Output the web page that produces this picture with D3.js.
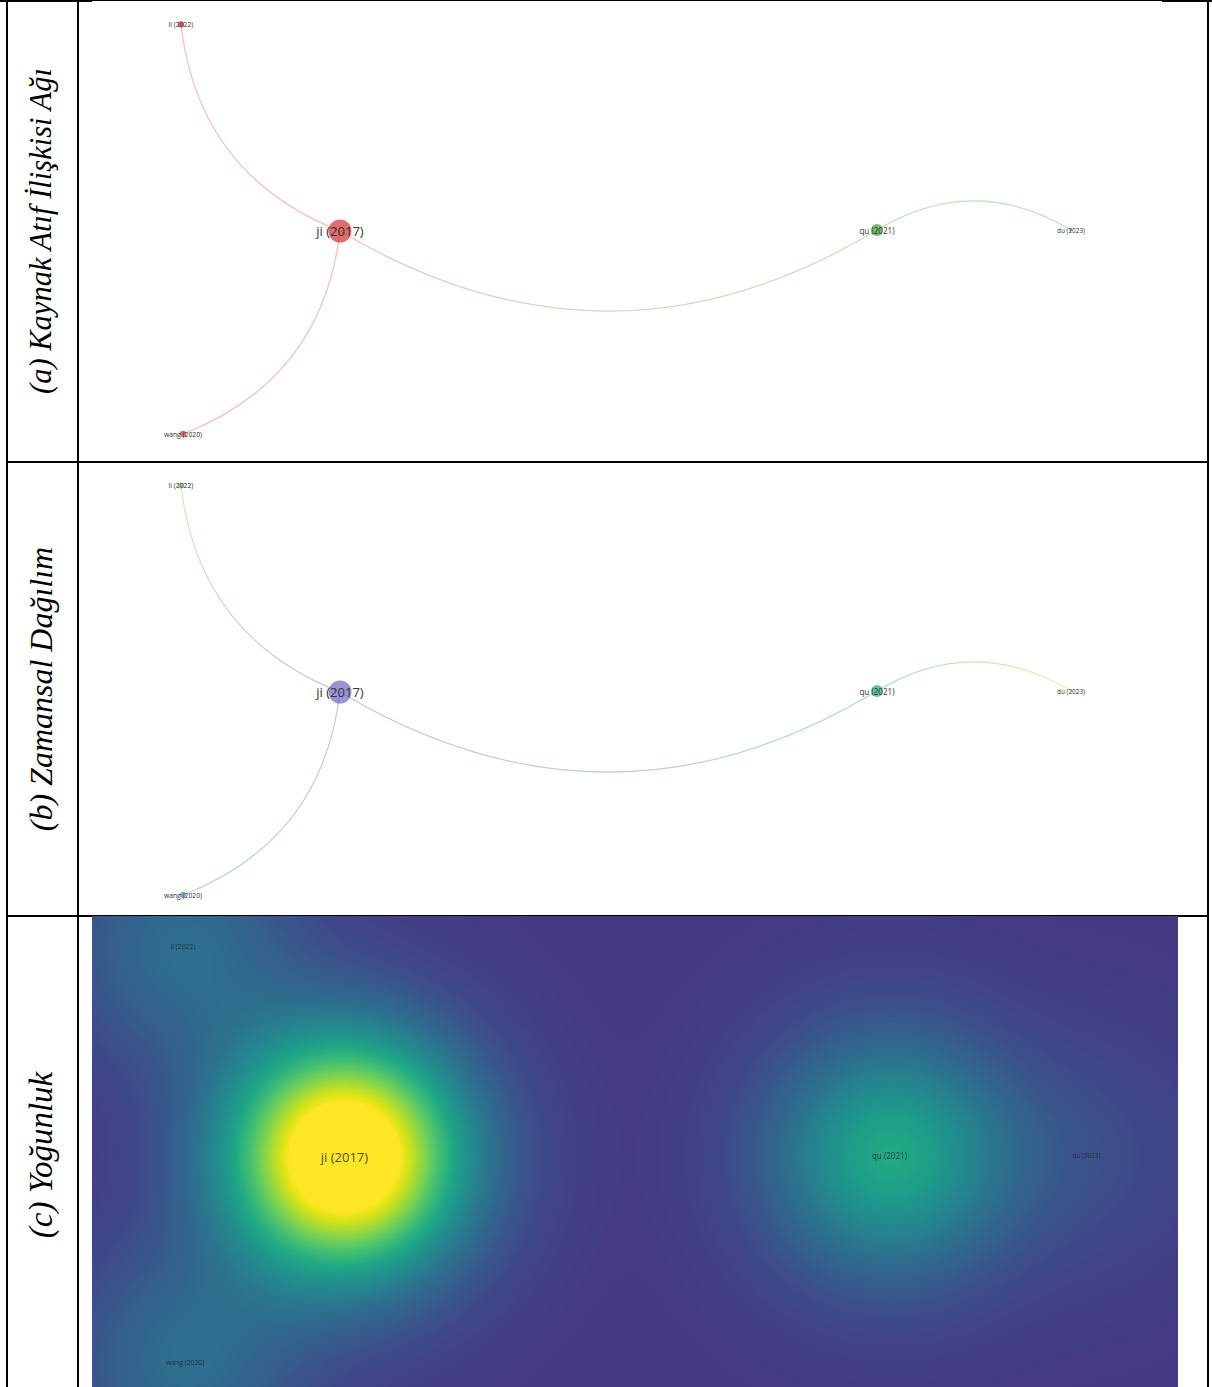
<!DOCTYPE html>
<html><head><meta charset="utf-8">
<script src="https://cdn.jsdelivr.net/npm/d3@7"></script>
<style>body{margin:0;background:#fff;} svg{display:block}</style>
</head><body>
<svg id="chart" width="1212" height="1387"></svg>
<script>
// ---- data ----
const nodeLabels  = ["li (2022)", "ji (2017)", "qu (2021)", "du (2023)", "wang (2020)"];
const nodeX       = [-4.29, -2.70, 2.67, 4.61, -4.27];
const nodeY       = [2.065, 0.0, 0.01, 0.01, -2.03];
const nodeYear    = [2022, 2017, 2021, 2023, 2020];
const nodeWeight  = [3, 17, 7, 1, 3];
const nodeCluster = [1, 1, 2, 2, 1];
const linkSource  = [0, 1, 3, 4];
const linkTarget  = [1, 2, 2, 1];
const panelTitles = ["(a) Kaynak Atıf İlişkisi Ağı", "(b) Zamansal Dağılım", "(c) Yoğunluk"];
const yearTicks   = [2017, 2020, 2021, 2022, 2023];

// ---- styles / layout ----
const W = 1212, H = 1387;
const svg = d3.select("#chart");
const titleSizes = [30.5, 32, 33];
const clusterColor = d3.scaleOrdinal().domain([1, 2]).range(["#d62728", "#2ca02c"]);
const yearColor = d3.scaleLinear().domain(yearTicks)
  .range(["#6a62c0", "#4a8cc0", "#1fa276", "#78cc62", "#cfd93a"]);
const radius = d3.scalePow().exponent(0.75).domain([0, 17]).range([0, 11.5]);
const fontSize = d3.scalePow().exponent(1.5).domain([1, 17]).range([6.4, 13]);

const nodes = nodeLabels.map((l, i) => ({label: l, x: nodeX[i], y: nodeY[i], year: nodeYear[i],
  w: nodeWeight[i], c: nodeCluster[i]}));
const links = linkSource.map((s, i) => ({s: nodes[s], t: nodes[linkTarget[i]], id: i}));

const panels = [
  {top: 0, bottom: 462, cx: 610, cy: 231, k: 100},
  {top: 462, bottom: 916, cx: 610, cy: 692, k: 100},
  {top: 916, bottom: 1394, cx: 618.5, cy: 1156.5, k: 101.5}
];
panels.forEach(p => {
  p.xs = d3.scaleLinear().domain([-5, 5]).range([p.cx - 5 * p.k, p.cx + 5 * p.k]);
  p.ys = d3.scaleLinear().domain([-5, 5]).range([p.cy + 5 * p.k, p.cy - 5 * p.k]);
});

const defs = svg.append("defs");

// ---- table borders ----
const bc = "#000";
const gB = svg.append("g");
gB.append("rect").attr("x", 0).attr("y", 0).attr("width", 92).attr("height", 2).attr("fill", bc);
gB.append("rect").attr("x", 92).attr("y", 0).attr("width", 1070).attr("height", 1).attr("fill", bc);
gB.append("rect").attr("x", 1162).attr("y", 0).attr("width", 50).attr("height", 2).attr("fill", bc);
gB.append("rect").attr("x", 6).attr("y", 0).attr("width", 2).attr("height", H).attr("fill", bc);
gB.append("rect").attr("x", 77).attr("y", 0).attr("width", 2).attr("height", H).attr("fill", bc);
gB.append("rect").attr("x", 1207).attr("y", 0).attr("width", 2).attr("height", H).attr("fill", bc);
gB.append("rect").attr("x", 6).attr("y", 461).attr("width", 1203).attr("height", 2).attr("fill", bc);
gB.append("rect").attr("x", 6).attr("y", 915).attr("width", 1203).attr("height", 2).attr("fill", bc);

// ---- titles ----
panelTitles.forEach((t, i) => {
  const p = panels[i];
  svg.append("text")
    .attr("transform", `translate(41,${(p.top + p.bottom) / 2}) rotate(-90)`)
    .attr("text-anchor", "middle").attr("dominant-baseline", "central")
    .style("font-family", "'Liberation Serif','Times New Roman',serif")
    .style("font-style", "italic").style("font-size", titleSizes[i] + "px").attr("fill", "#000")
    .text(t);
});

function curvePath(p, l) {
  const x1 = p.xs(l.s.x), y1 = p.ys(l.s.y), x2 = p.xs(l.t.x), y2 = p.ys(l.t.y);
  const dx = x2 - x1, dy = y2 - y1;
  const mx = (x1 + x2) / 2, my = (y1 + y2) / 2;
  const cx = mx - dy * 0.3, cy = my + dx * 0.3;
  return `M${x1},${y1}Q${cx},${cy} ${x2},${y2}`;
}

// ---- network panels ----
function drawNetwork(pi, colorOf, edgeOpacity) {
  const p = panels[pi];
  const g = svg.append("g");
  links.forEach(l => {
    const gid = `grad${pi}_${l.id}`;
    const gr = defs.append("linearGradient").attr("id", gid).attr("gradientUnits", "userSpaceOnUse")
      .attr("x1", p.xs(l.s.x)).attr("y1", p.ys(l.s.y)).attr("x2", p.xs(l.t.x)).attr("y2", p.ys(l.t.y));
    gr.append("stop").attr("offset", "0%").attr("stop-color", colorOf(l.s));
    gr.append("stop").attr("offset", "100%").attr("stop-color", colorOf(l.t));
    g.append("path").attr("d", curvePath(p, l)).attr("fill", "none")
      .attr("stroke", `url(#${gid})`).attr("stroke-width", 1.2).attr("stroke-opacity", edgeOpacity);
  });
  g.selectAll("circle").data(nodes).join("circle")
    .attr("cx", d => p.xs(d.x)).attr("cy", d => p.ys(d.y)).attr("r", d => radius(d.w))
    .attr("fill", d => colorOf(d)).attr("fill-opacity", 0.68);
  g.selectAll("text").data(nodes).join("text")
    .attr("x", d => p.xs(d.x)).attr("y", d => p.ys(d.y))
    .attr("text-anchor", "middle").attr("dominant-baseline", "central")
    .style("font-family", "'Open Sans',sans-serif").style("font-size", d => fontSize(d.w) + "px")
    .attr("fill", "#333").text(d => d.label);
}
drawNetwork(0, d => clusterColor(d.c), 0.3);
drawNetwork(1, d => yearColor(d.year), 0.38);

// ---- density panel ----
(function () {
  const p = panels[2];
  const x0 = 92, y0 = 916, w = 1086, h = H - 916;
  const sigma = 0.8, ampPerWeight = 0.0735, base = 0.17;
  const canvas = document.createElement("canvas");
  canvas.width = w; canvas.height = h;
  const ctx = canvas.getContext("2d");
  const img = ctx.createImageData(w, h);
  const lut = d3.range(256).map(i => d3.rgb(d3.interpolateViridis(base + (1 - base) * i / 255)));
  const nx = nodes.map(d => p.xs(d.x)), ny = nodes.map(d => p.ys(d.y));
  const amp = nodes.map(d => d.w * ampPerWeight);
  const sPx = sigma * p.k, inv = 1 / (2 * sPx * sPx);
  for (let j = 0; j < h; j++) {
    for (let i = 0; i < w; i++) {
      const px = x0 + i, py = y0 + j;
      let v = 0;
      for (let n = 0; n < nodes.length; n++) {
        const ddx = px - nx[n], ddy = py - ny[n];
        v += amp[n] * Math.exp(-(ddx * ddx + ddy * ddy) * inv);
      }
      const c = lut[Math.round(Math.min(1, v) * 255)];
      const o = (j * w + i) * 4;
      img.data[o] = c.r; img.data[o + 1] = c.g; img.data[o + 2] = c.b; img.data[o + 3] = 255;
    }
  }
  ctx.putImageData(img, 0, 0);
  svg.append("image").attr("x", x0).attr("y", y0).attr("width", w).attr("height", h)
    .attr("href", canvas.toDataURL());
  svg.append("g").selectAll("text").data(nodes).join("text")
    .attr("x", d => p.xs(d.x)).attr("y", d => p.ys(d.y))
    .attr("text-anchor", "middle").attr("dominant-baseline", "central")
    .style("font-family", "'Open Sans',sans-serif").style("font-size", d => fontSize(d.w) + "px")
    .attr("fill", "#222").attr("fill-opacity", 0.8).text(d => d.label);
})();
</script>
</body></html>
